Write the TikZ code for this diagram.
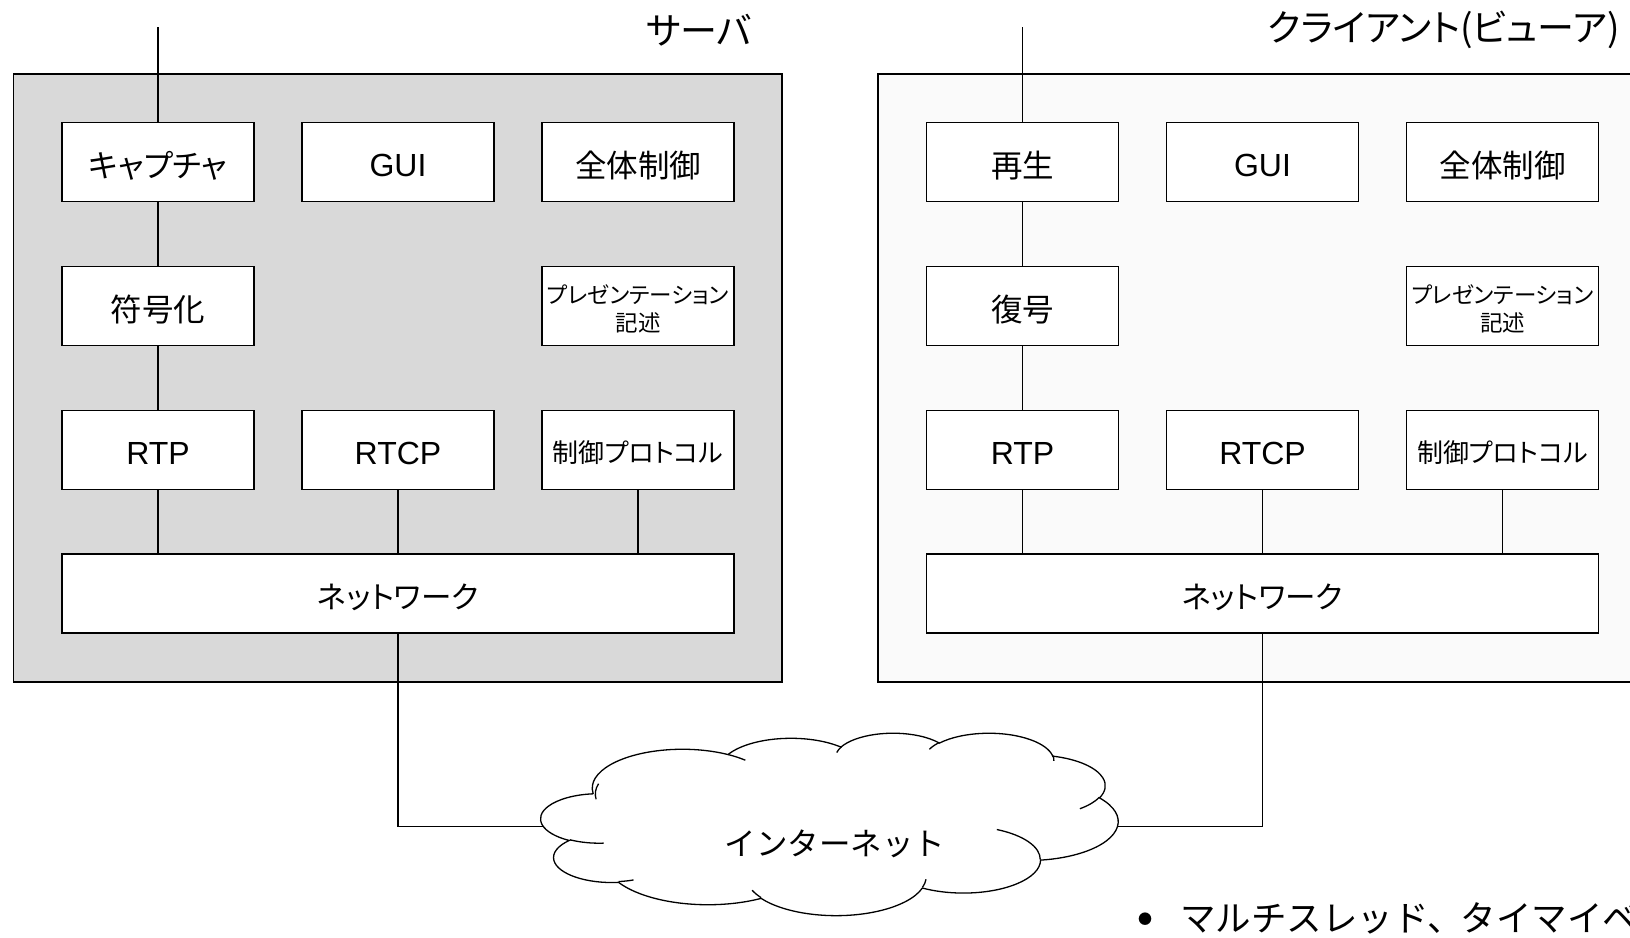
\documentclass[tikz,border=0pt]{standalone}
\usepackage{fontspec}
\setmainfont{Liberation Sans}
\newfontfamily\jp[RawFeature=+palt]{Noto Sans CJK JP}
\newfontfamily\jpw{Noto Sans CJK JP}
\usetikzlibrary{shapes.symbols}
\definecolor{srvbg}{HTML}{D9D9D9}
\definecolor{clibg}{HTML}{FAFAFA}
% one arc of the cloud outline: x radius, y radius, start angle, sweep
\tikzset{pc/.style n args={4}{insert path={arc[x radius=#1,y radius=#2,
	start angle={atan2((#1)*sin(#3),(#2)*cos(#3))},
	delta angle={mod(atan2((#1)*sin((#3)+(#4)),(#2)*cos((#3)+(#4)))-atan2((#1)*sin(#3),(#2)*cos(#3))+720,360)}]}}}
\begin{document}
\begin{tikzpicture}[x=1pt,y=-1pt,
	blk/.style={draw,fill=white,line width=1.3pt,minimum width=192pt,minimum height=79pt,inner sep=0pt,align=center,text height=30pt,text depth=0pt,font=\jp\fontsize{31.5}{35}\selectfont},
	lat/.style={blk,text height=29pt,font=\fontsize{32}{36}\selectfont},
	sml/.style={blk,text height=50pt,text depth=0pt,font=\jp\fontsize{22.5}{28}\selectfont},
	prt/.style={blk,text height=25.8pt,font=\jp\fontsize{26}{30}\selectfont},
	net/.style={blk,minimum width=672pt,text height=29.2pt,font=\jp\fontsize{30.5}{34}\selectfont},
	frame/.style={draw,line width=1.5pt},
	ttl/.style={anchor=east,inner sep=0pt,font=\jp\fontsize{37}{42}\selectfont},
	wire/.style={line width=1.3pt}]
		\useasboundingbox (0,0) rectangle (1630,937);
		\clip (0,0) rectangle (1630,937);
		\draw[frame,fill=srvbg] (13.5,74) rectangle (782,682);
		\draw[frame,fill=clibg] (878,74) rectangle (1665,682);
		\node[ttl] (t0) at (752,30) {サーバ};
		\node[ttl] (t1) at (1620,30) {クライアント(ビューア)};
		
		% server
		\coordinate (s9) at (158,27);
		\node[blk] (s0) at (158,162) {キャプチャ};
		\node[lat] (s1) at (398,162) {GUI};
		\node[blk] (s2) at (638,162) {全体制御};
		\node[blk] (s3) at (158,306) {符号化};
		\node[sml] (s4) at (638,306) {プレゼンテーション\\記述};
		\node[lat] (s5) at (158,450) {RTP};
		\node[lat] (s6) at (398,450) {RTCP};
		\node[prt] (s7) at (638,450) {制御プロトコル};
		\node[net] (s8) at (398,593.5) {ネットワーク};
		
		% client
		\coordinate (c9) at (1022.5,27);
		\node[blk] (c0) at (1022.5,162) {再生};
		\node[lat] (c1) at (1262.5,162) {GUI};
		\node[blk] (c2) at (1502.5,162) {全体制御};
		\node[blk] (c3) at (1022.5,306) {復号};
		\node[sml] (c4) at (1502.5,306) {プレゼンテーション\\記述};
		\node[lat] (c5) at (1022.5,450) {RTP};
		\node[lat] (c6) at (1262.5,450) {RTCP};
		\node[prt] (c7) at (1502.5,450) {制御プロトコル};
		\node[net] (c8) at (1262.5,593.5) {ネットワーク};
		
		% cloud
		\begin{scope}[shift={(541,732.6)},x=1.3356pt,y=-0.4222pt,line width=1.3pt]
			\draw[fill=white] (39,143.7) [pc={67.53}{91.90}{-190.4875}{123.7805}]
				[pc={53.33}{72.67}{-144.1024}{89.9452}] [pc={43.65}{59.45}{-145.8079}{99.7230}]
				[pc={48.57}{65.95}{-130.9861}{117.2417}] [pc={53.33}{72.73}{-78.7089}{109.0269}]
				[pc={67.75}{92.20}{-46.2673}{130.2690}] [pc={57.85}{78.67}{0.6250}{114.0333}]
				[pc={67.52}{92.15}{22.4516}{115.1726}] [pc={77.20}{105.43}{66.2426}{75.7110}]
				[pc={43.60}{59.18}{-274.9421}{146.7356}] [pc={43.45}{59.45}{-246.8285}{152.5189}] -- cycle;
			\draw (46.93,261.77) [pc={43.45}{59.45}{86.7420}{26.4295}];
			\draw (69.28,348.99) [pc={43.60}{59.18}{73.6105}{11.4475}];
			\draw (164.78,390.90) [pc={67.52}{92.15}{137.6242}{14.0811}];
			\draw (288.27,347.51) [pc={67.52}{92.15}{6.4533}{15.9984}];
			\draw (341.29,229.54) [pc={57.85}{78.67}{-70.2924}{70.9174}];
			\draw (417.98,153.54) [pc={53.33}{72.73}{30.3180}{27.7515}];
			\draw (383.24,54.26) [pc={48.57}{65.95}{-13.7443}{14.8589}];
			\draw (290.78,39.52) [pc={48.57}{65.95}{-149.1815}{18.1954}];
			\draw (221.41,47.20) [pc={43.65}{59.45}{-163.4943}{17.6864}];
			\draw (140.00,51.92) [pc={67.53}{91.90}{-66.7070}{12.3194}];
			\draw (41.27,157.89) [pc={67.53}{91.90}{-190.4875}{31.1468}];
		\end{scope}
		\node[font=\jpw\fontsize{31.5}{35}\selectfont] (n0) at (835,844) {インターネット};
		\coordinate (n1) at (543,826.5);
		\coordinate (n2) at (1117.5,826.5);
		
		\node[anchor=base west,inner sep=0pt,font=\jpw\fontsize{35.5}{40}\selectfont] (b0) at (1138,931) {\makebox[42pt][l]{\raisebox{7pt}{\fontsize{14}{14}\selectfont ●}}マルチスレッド、\hspace{-2pt}タイマイベ};
		
		\draw[wire] (s9) to (s0); \draw[wire] (s0) to (s3);
		\draw[wire] (s3) to (s5); \draw[wire] (s5.south) to (s5.south |- s8.north);
		\draw[wire] (s6) to (s6.south |- s8.north); \draw[wire] (s7) to (s7.south |- s8.north);
		\draw[wire] (c9) to (c0); \draw[wire] (c0) to (c3);
		\draw[wire] (c3) to (c5); \draw[wire] (c5.south) to (c5.south |- c8.north);
		\draw[wire] (c6) to (c6.south |- c8.north); \draw[wire] (c7) to (c7.south |- c8.north);
		\draw[wire] (s8.south) |- (n1);
		\draw[wire] (c8.south) |- (n2);
\end{tikzpicture}
\end{document}
